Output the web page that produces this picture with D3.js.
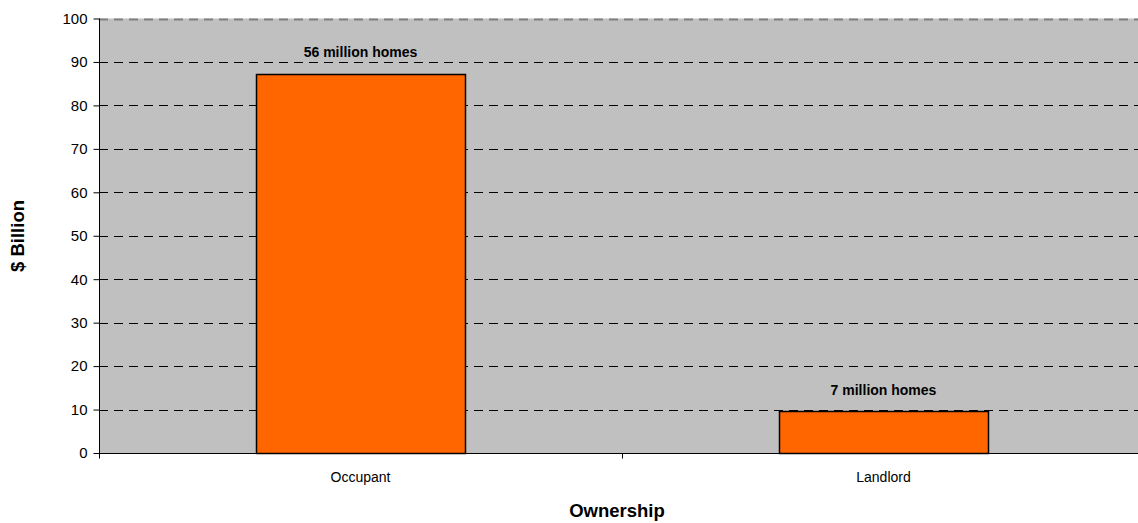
<!DOCTYPE html>
<html>
<head>
<meta charset="utf-8">
<script src="https://cdn.jsdelivr.net/npm/d3@7"></script>
<style>
  html, body { margin: 0; padding: 0; background: #fff; }
  svg { display: block; font-family: "Liberation Sans", Arial, sans-serif; }
</style>
</head>
<body>
<svg id="chart" width="1138" height="523"></svg>
<script>
// Savings by ownership type
const categories = ["Occupant", "Landlord"];
const values = [87.3, 9.6];
const barLabels = ["56 million homes", "7 million homes"];
const yTicks = [0, 10, 20, 30, 40, 50, 60, 70, 80, 90, 100];

const svg = d3.select("#chart");
const plot = { left: 99, top: 18.5, right: 1145, bottom: 453 };

const x = d3.scaleBand()
  .domain(categories)
  .range([plot.left, plot.right])
  .paddingInner(0)
  .paddingOuter(0);

const y = d3.scaleLinear()
  .domain([0, 100])
  .range([plot.bottom, plot.top]);

// plot background
svg.append("rect")
  .attr("x", plot.left).attr("y", plot.top)
  .attr("width", plot.right - plot.left)
  .attr("height", plot.bottom - plot.top)
  .attr("fill", "#c0c0c0");

// dashed gridlines
svg.append("g")
  .selectAll("line")
  .data(yTicks.filter(d => d > 0))
  .join("line")
  .attr("x1", plot.left).attr("x2", plot.right)
  .attr("y1", d => Math.round(y(d)) + 0.5)
  .attr("y2", d => Math.round(y(d)) + 0.5)
  .attr("stroke", d => d === 100 ? "#808080" : "#000")
  .attr("stroke-width", d => d === 100 ? 2 : 1)
  .attr("stroke-dasharray", "9,6");

// bars
const barW = x.bandwidth() * 0.4;
svg.append("g")
  .selectAll("rect")
  .data(values)
  .join("rect")
  .attr("x", (d, i) => Math.round(x(categories[i]) + (x.bandwidth() - barW) / 2) + 0.5)
  .attr("y", d => Math.round(y(d)) + 0.5)
  .attr("width", Math.round(barW))
  .attr("height", d => Math.round(y(0)) - Math.round(y(d)))
  .attr("fill", "#ff6600")
  .attr("stroke", "#000")
  .attr("stroke-width", 1.5);

// value labels
svg.append("g")
  .selectAll("text")
  .data(values)
  .join("text")
  .attr("x", (d, i) => x(categories[i]) + x.bandwidth() / 2)
  .attr("y", d => y(d) - 16.5)
  .attr("text-anchor", "middle")
  .attr("font-size", 14)
  .attr("font-weight", "bold")
  .attr("fill", "#000")
  .text((d, i) => barLabels[i]);

// y axis
const yAxis = d3.axisLeft(y).tickValues(yTicks).tickSize(6).tickPadding(6);
const gy = svg.append("g")
  .attr("transform", `translate(${plot.left + 0.5},0)`)
  .call(yAxis);
gy.select(".domain").attr("stroke", "#000").attr("d", `M0,${plot.top}V${plot.bottom}`);
gy.selectAll(".tick line").attr("stroke", "#000");
gy.selectAll(".tick text")
  .attr("font-size", 15)
  .attr("font-family", "Liberation Sans, Arial, sans-serif")
  .attr("fill", "#000");

// x axis
const gx = svg.append("g")
  .attr("transform", `translate(0,${Math.round(plot.bottom) + 0.5})`);
gx.append("line")
  .attr("x1", plot.left).attr("x2", plot.right)
  .attr("stroke", "#000");
// category separators
gx.selectAll("line.sep")
  .data(categories)
  .join("line")
  .attr("class", "sep")
  .attr("x1", d => Math.round(x(d)) + 0.5)
  .attr("x2", d => Math.round(x(d)) + 0.5)
  .attr("y1", 0).attr("y2", 5)
  .attr("stroke", "#000");
gx.selectAll("text")
  .data(categories)
  .join("text")
  .attr("x", d => x(d) + x.bandwidth() / 2)
  .attr("y", 28.5)
  .attr("text-anchor", "middle")
  .attr("font-size", 14)
  .attr("fill", "#000")
  .text(d => d);

// axis titles
svg.append("text")
  .attr("x", 617)
  .attr("y", 517)
  .attr("text-anchor", "middle")
  .attr("font-size", 18.5)
  .attr("font-weight", "bold")
  .text("Ownership");

svg.append("text")
  .attr("transform", "translate(24,236) rotate(-90)")
  .attr("text-anchor", "middle")
  .attr("font-size", 18.5)
  .attr("font-weight", "bold")
  .text("$ Billion");
</script>
</body>
</html>
